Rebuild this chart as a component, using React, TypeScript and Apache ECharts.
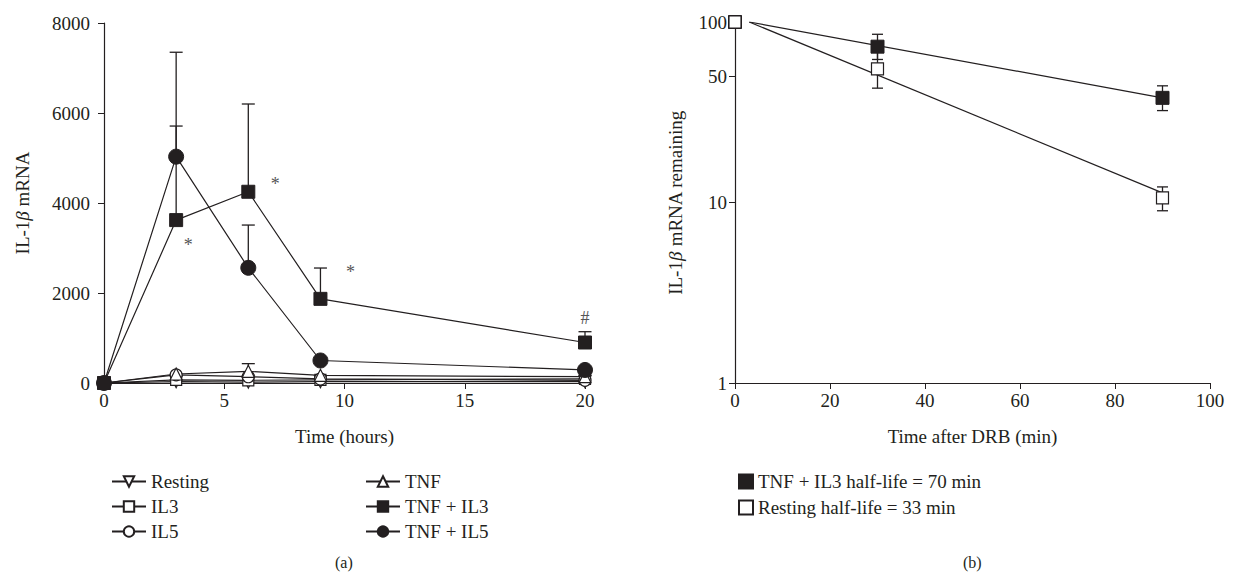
import React, { useEffect, useRef } from "react";
import * as echarts from "echarts";

// ---------- Panel (a) data ----------
const hours = [0, 3, 6, 9, 20];
const hourTicks = [0, 5, 10, 15, 20];
const resting = [0, 30, 20, 30, 30];
const il3 = [0, 70, 60, 70, 90];
const il5 = [0, 180, 140, 90, 60];
const tnf = [0, 200, 260, 170, 140];
const tnfIl3 = [0, 3620, 4250, 1870, 900];
const tnfIl5 = [0, 5030, 2560, 500, 290];
const tnfIl3ErrTop = [null, 5710, 6200, 2555, 1140];
const tnfIl5ErrTop = [null, 7350, 3510, null, null];
const tnfErrTop = [null, null, 430, null, null];
const marksA = ["", "*", "*", "*", "#"];

// ---------- Panel (b) data ----------
const minutes = [0, 30, 90];
const tnfIl3Remain = [100, 73, 38];
const tnfIl3Lo = [null, 62, 32.3];
const tnfIl3Hi = [null, 85.5, 44.3];
const restingRemain = [100, 55, 10.6];
const restingLo = [null, 43, 9.0];
const restingHi = [null, 68, 12.2];
const tnfIl3FitX = [3, 90];
const tnfIl3FitY = [100, 38];
const restingFitX = [3, 90];
const restingFitY = [100, 11.3];
const logTicks = [1, 10, 50, 100];

const INK = "#231f20";
const FONT = "Liberation Serif";
const FS = 19;

const namesA = ["Resting", "IL3", "IL5", "TNF", "TNF + IL3", "TNF + IL5"];
const nameB1 = "TNF + IL3 half-life = 70 min";
const nameB2 = "Resting half-life = 33 min";

function errRender(capW: number, lowerCap: boolean) {
  return (params: any, api: any) => {
    const x = api.value(0);
    const lo = api.value(1);
    const hi = api.value(2);
    const p1 = api.coord([x, lo]);
    const p2 = api.coord([x, hi]);
    const style = { stroke: INK, lineWidth: 1.3 };
    const children: any[] = [
      { type: "line", shape: { x1: p1[0], y1: p1[1], x2: p2[0], y2: p2[1] }, style },
      { type: "line", shape: { x1: p2[0] - capW / 2, y1: p2[1], x2: p2[0] + capW / 2, y2: p2[1] }, style },
    ];
    if (lowerCap) {
      children.push({ type: "line", shape: { x1: p1[0] - capW / 2, y1: p1[1], x2: p1[0] + capW / 2, y2: p1[1] }, style });
    }
    return { type: "group", children };
  };
}

function upperErr(vals: number[], tops: (number | null)[]) {
  const out: number[][] = [];
  hours.forEach((h, i) => {
    if (tops[i] != null) out.push([h, vals[i], tops[i] as number]);
  });
  return out;
}

function bothErr(lo: (number | null)[], hi: (number | null)[]) {
  const out: number[][] = [];
  minutes.forEach((m, i) => {
    if (lo[i] != null) out.push([m, lo[i] as number, hi[i] as number]);
  });
  return out;
}

const openStyle = { color: "#ffffff", borderColor: INK, borderWidth: 1.2, opacity: 1 };
const filledStyle = { color: INK, borderColor: INK, borderWidth: 1, opacity: 1 };

function lineA(name: string, vals: number[], symbol: string, size: number, open: boolean, rotate = 0, extra: any = {}) {
  return {
    type: "line",
    name,
    xAxisIndex: 0,
    yAxisIndex: 0,
    data: hours.map((h, i) => [h, vals[i]]),
    symbol,
    symbolSize: size,
    symbolRotate: rotate,
    showAllSymbol: true,
    lineStyle: { color: INK, width: 1.2 },
    itemStyle: open ? openStyle : filledStyle,
    z: 3,
    ...extra,
  };
}

const labelOffsets: number[][] = [[0, 0], [12, 25], [27, -8], [30, -27], [0, -25]];

export default function App() {
  const ref = useRef<HTMLDivElement>(null);
  useEffect(() => {
    document.body.style.margin = "0";
    const chart = echarts.init(ref.current!, undefined, { renderer: "svg" });
    const axisText = { fontFamily: FONT, fontSize: FS, color: INK };
    const nameRich = {
      a: { fontFamily: FONT, fontSize: FS, color: INK },
      b: { fontFamily: FONT, fontSize: FS, color: INK, fontStyle: "italic" },
    };
    const tnfIl3Data = hours.map((h, i) => {
      const item: any = { value: [h, tnfIl3[i]] };
      if (marksA[i]) {
        item.label = {
          show: true,
          formatter: marksA[i],
          position: "inside",
          offset: labelOffsets[i],
          fontFamily: FONT,
          fontSize: 18,
          color: "#555",
        };
      }
      return item;
    });
    const legendText = { fontFamily: FONT, fontSize: FS, color: INK };
    const option: any = {
      animation: false,
      backgroundColor: "#ffffff",
      grid: [
        { left: 104, top: 23, width: 481, height: 360 },
        { left: 735, top: 22, width: 475, height: 361 },
      ],
      xAxis: [
        {
          type: "value",
          gridIndex: 0,
          min: 0,
          max: 20,
          interval: 5,
          name: "Time (hours)",
          nameLocation: "middle",
          nameGap: 44,
          nameTextStyle: { fontFamily: FONT, fontSize: FS, color: INK },
          axisLine: { show: true, onZero: false, lineStyle: { color: INK, width: 1.2 } },
          axisTick: { show: true, length: 6, lineStyle: { color: INK } },
          axisLabel: { ...axisText, margin: 8, customValues: hourTicks },
          splitLine: { show: false },
        },
        {
          type: "value",
          gridIndex: 1,
          min: 0,
          max: 100,
          interval: 20,
          name: "Time after DRB (min)",
          nameLocation: "middle",
          nameGap: 44,
          nameTextStyle: { fontFamily: FONT, fontSize: FS, color: INK },
          axisLine: { show: true, onZero: false, lineStyle: { color: INK, width: 1.2 } },
          axisTick: { show: true, length: 6, lineStyle: { color: INK } },
          axisLabel: { ...axisText, margin: 8 },
          splitLine: { show: false },
        },
      ],
      yAxis: [
        {
          type: "value",
          gridIndex: 0,
          min: 0,
          max: 8000,
          interval: 2000,
          name: "{a|IL-1}{b|β}{a| mRNA}",
          nameLocation: "middle",
          nameGap: 72,
          nameRotate: 90,
          nameTextStyle: { rich: nameRich },
          axisLine: { show: true, onZero: false, lineStyle: { color: INK, width: 1.2 } },
          axisTick: { show: true, length: 6, lineStyle: { color: INK } },
          axisLabel: { ...axisText, margin: 14, formatter: (v: number) => String(v) },
          splitLine: { show: false },
        },
        {
          type: "log",
          logBase: 10,
          gridIndex: 1,
          min: 1,
          max: 100,
          name: "{a|IL-1}{b|β}{a| mRNA remaining}",
          nameLocation: "middle",
          nameGap: 50,
          nameRotate: 90,
          nameTextStyle: { rich: nameRich },
          axisLine: { show: true, onZero: false, lineStyle: { color: INK, width: 1.2 } },
          axisTick: { show: true, length: 6, lineStyle: { color: INK }, customValues: logTicks },
          axisLabel: { ...axisText, margin: 8, customValues: logTicks },
          splitLine: { show: false },
        },
      ],
      legend: [
        {
          orient: "vertical",
          left: 106,
          top: 467,
          itemWidth: 34,
          itemHeight: 13,
          itemGap: 6,
          textStyle: legendText,
          data: namesA.slice(0, 3),
          selectedMode: false,
        },
        {
          orient: "vertical",
          left: 360,
          top: 467,
          itemWidth: 34,
          itemHeight: 13,
          itemGap: 6,
          textStyle: legendText,
          data: namesA.slice(3, 6),
          selectedMode: false,
        },
        {
          orient: "vertical",
          left: 733,
          top: 467,
          itemWidth: 14,
          itemHeight: 14,
          itemGap: 7,
          textStyle: legendText,
          data: [
            { name: nameB1, icon: "rect" },
            { name: nameB2, icon: "rect" },
          ],
          selectedMode: false,
        },
      ],
      graphic: [
        { type: "text", left: 335, top: 554, style: { text: "(a)", font: `16px "${FONT}"`, fill: INK } },
        { type: "text", left: 963, top: 554, style: { text: "(b)", font: `16px "${FONT}"`, fill: INK } },
      ],
      series: [
        {
          type: "custom",
          name: "errA",
          xAxisIndex: 0,
          yAxisIndex: 0,
          renderItem: errRender(13, false),
          data: [
            ...upperErr(tnf, tnfErrTop),
            ...upperErr(tnfIl3, tnfIl3ErrTop),
            ...upperErr(tnfIl5, tnfIl5ErrTop),
          ],
          encode: { x: 0, y: [1, 2] },
          clip: false,
          z: 1,
          silent: true,
        },
        lineA(namesA[0], resting, "triangle", 12, true, 180),
        lineA(namesA[1], il3, "rect", 11, true),
        lineA(namesA[2], il5, "circle", 12, true),
        lineA(namesA[3], tnf, "triangle", 12, true),
        lineA(namesA[4], tnfIl3, "rect", 13, false, 0, { data: tnfIl3Data, z: 4 }),
        lineA(namesA[5], tnfIl5, "circle", 15, false, 0, { z: 5 }),
        // Panel (b)
        {
          type: "line",
          name: "fitTnfIl3",
          xAxisIndex: 1,
          yAxisIndex: 1,
          data: tnfIl3FitX.map((x, i) => [x, tnfIl3FitY[i]]),
          symbol: "none",
          lineStyle: { color: INK, width: 1.2 },
          z: 2,
        },
        {
          type: "line",
          name: "fitResting",
          xAxisIndex: 1,
          yAxisIndex: 1,
          data: restingFitX.map((x, i) => [x, restingFitY[i]]),
          symbol: "none",
          lineStyle: { color: INK, width: 1.2 },
          z: 2,
        },
        {
          type: "custom",
          name: "errB",
          xAxisIndex: 1,
          yAxisIndex: 1,
          renderItem: errRender(11, true),
          data: [...bothErr(tnfIl3Lo, tnfIl3Hi), ...bothErr(restingLo, restingHi)],
          encode: { x: 0, y: [1, 2] },
          clip: false,
          z: 1,
          silent: true,
        },
        {
          type: "scatter",
          name: nameB1,
          xAxisIndex: 1,
          yAxisIndex: 1,
          data: minutes.map((m, i) => [m, tnfIl3Remain[i]]),
          symbol: "rect",
          symbolSize: 13,
          itemStyle: filledStyle,
          z: 3,
        },
        {
          type: "scatter",
          name: nameB2,
          xAxisIndex: 1,
          yAxisIndex: 1,
          data: minutes.map((m, i) => [m, restingRemain[i]]),
          symbol: "rect",
          symbolSize: 12,
          itemStyle: openStyle,
          z: 4,
        },
      ],
    };
    chart.setOption(option);
    return () => chart.dispose();
  }, []);
  return <div ref={ref} style={{ width: 1245, height: 579 }} />;
}
